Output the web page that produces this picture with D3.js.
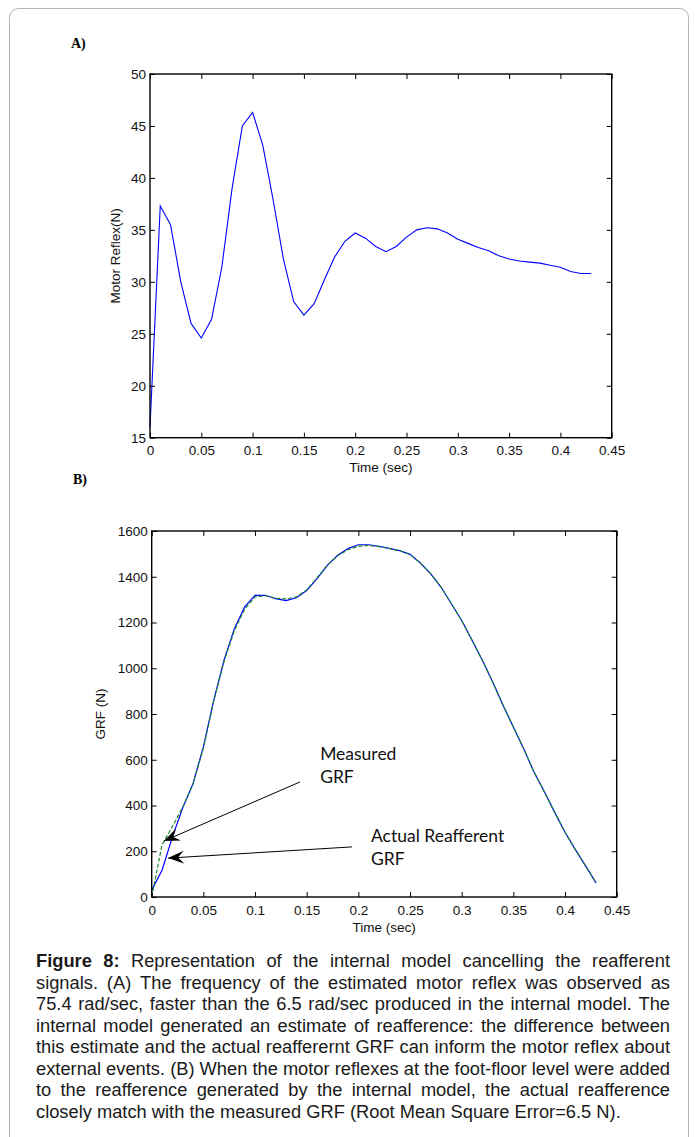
<!DOCTYPE html>
<html>
<head>
<meta charset="utf-8">
<script src="https://cdn.jsdelivr.net/npm/d3@7"></script>
<style>
  body { margin: 0; background: #fff; }
  .tick text { font-family: "Liberation Sans", Arial, sans-serif; font-size: 13.5px; fill: #111; }
  .tick line { stroke: #000; }
  .axlabel { font-family: "Liberation Sans", Arial, sans-serif; font-size: 13.5px; fill: #111; }
  .panel { font-family: "Liberation Serif", "Times New Roman", serif; font-size: 14px; font-weight: bold; }
  .note { font-family: Lato, "Open Sans", sans-serif; font-size: 17.5px; fill: #111; }
  .caption { font-family: "Liberation Sans", Arial, sans-serif; font-size: 18.3px; fill: #1a1a1a; }
</style>
</head>
<body>
<div id="fig"></div>
<script>
// ---- data ----
const time = [0, 0.01, 0.02, 0.03, 0.04, 0.05, 0.06, 0.07, 0.08, 0.09,
  0.10, 0.11, 0.12, 0.13, 0.14, 0.15, 0.16, 0.17, 0.18, 0.19,
  0.20, 0.21, 0.22, 0.23, 0.24, 0.25, 0.26, 0.27, 0.28, 0.29,
  0.30, 0.31, 0.32, 0.33, 0.34, 0.35, 0.36, 0.37, 0.38, 0.39,
  0.40, 0.41, 0.42, 0.43];

// A) motor reflex (N)
const motorReflex = [16.0, 37.3, 35.5, 30.0, 26.0, 24.6, 26.4, 31.4, 39.0, 45.0,
  46.3, 43.1, 37.9, 32.2, 28.1, 26.8, 27.9, 30.2, 32.4, 33.9,
  34.7, 34.2, 33.4, 32.9, 33.4, 34.3, 35.0, 35.2, 35.1, 34.7,
  34.1, 33.7, 33.3, 33.0, 32.5, 32.2, 32.0, 31.9, 31.8, 31.6,
  31.4, 31.0, 30.8, 30.8];

// B) actual reafferent GRF (blue) and measured GRF (green dashed)
const reafferentGRF = [30, 117, 262, 390, 495, 656, 860, 1035, 1173, 1268,
  1319, 1319, 1304, 1296, 1308, 1340, 1392, 1450, 1494, 1523,
  1540, 1540, 1533, 1524, 1514, 1498, 1460, 1413, 1355, 1282,
  1209, 1122, 1035, 940, 838, 743, 648, 546, 460, 370,
  283, 207, 135, 62];
const measuredGRF = [0, 228, 308, 392, 495, 650, 855, 1030, 1165, 1258,
  1312, 1317, 1306, 1303, 1312, 1342, 1395, 1452, 1492, 1518,
  1533, 1537, 1532, 1523, 1514, 1497, 1460, 1413, 1355, 1282,
  1209, 1122, 1035, 940, 838, 743, 648, 546, 460, 370,
  283, 207, 135, 62];

const xTicks = [0, 0.05, 0.1, 0.15, 0.2, 0.25, 0.3, 0.35, 0.4, 0.45];
const yTicksA = [15, 20, 25, 30, 35, 40, 45, 50];
const yTicksB = [0, 200, 400, 600, 800, 1000, 1200, 1400, 1600];

const captionLines = [
  "Figure 8: Representation of the internal model cancelling the reafferent",
  "signals. (A) The frequency of the estimated motor reflex was observed as",
  "75.4 rad/sec, faster than the 6.5 rad/sec produced in the internal model. The",
  "internal model generated an estimate of reafference: the difference between",
  "this estimate and the actual reafferernt GRF can inform the motor reflex about",
  "external events. (B) When the motor reflexes at the foot-floor level were added",
  "to the reafference generated by the internal model, the actual reafference",
  "closely match with the measured GRF (Root Mean Square Error=6.5 N)."
];

// ---- page ----
const svg = d3.select("#fig").append("svg").attr("width", 695).attr("height", 1137);

svg.append("rect")
  .attr("x", 9.5).attr("y", 8.5)
  .attr("width", 679).attr("height", 1160)
  .attr("rx", 9)
  .attr("fill", "none")
  .attr("stroke", "#b4b4b4");

const fmt = d3.format("~g");

// shared frame drawing (MATLAB style box, ticks inward on all sides)
function frame(x, y, yTicks, box) {
  const g = svg.append("g");
  g.append("g").attr("transform", `translate(0,${box.b})`)
    .call(d3.axisBottom(x).tickValues(xTicks).tickFormat(fmt).tickSizeInner(-5).tickSizeOuter(0).tickPadding(8));
  g.append("g").attr("transform", `translate(0,${box.t})`)
    .call(d3.axisTop(x).tickValues(xTicks).tickFormat("").tickSizeInner(-5).tickSizeOuter(0));
  g.append("g").attr("transform", `translate(${box.l},0)`)
    .call(d3.axisLeft(y).tickValues(yTicks).tickFormat(fmt).tickSizeInner(-5).tickSizeOuter(0).tickPadding(4));
  g.append("g").attr("transform", `translate(${box.r},0)`)
    .call(d3.axisRight(y).tickValues(yTicks).tickFormat("").tickSizeInner(-5).tickSizeOuter(0));
  g.selectAll(".domain").remove();
  g.append("rect")
    .attr("x", box.l).attr("y", box.t)
    .attr("width", box.r - box.l).attr("height", box.b - box.t)
    .attr("fill", "none").attr("stroke", "#000").attr("stroke-width", 1.4);
  return g;
}

// ----- A) Motor reflex -----
const boxA = { l: 150, r: 611.7, t: 74, b: 437.7 };
const xA = d3.scaleLinear().domain([0, 0.45]).range([boxA.l, boxA.r]);
const yA = d3.scaleLinear().domain([15, 50]).range([boxA.b, boxA.t]);

svg.append("text").attr("class", "panel").attr("x", 71).attr("y", 48).text("A)");

svg.append("path")
  .datum(time.map((t, i) => [t, motorReflex[i]]))
  .attr("fill", "none")
  .attr("stroke", "#0000ff")
  .attr("stroke-width", 1.1)
  .attr("d", d3.line().x(d => xA(d[0])).y(d => yA(d[1])));

frame(xA, yA, yTicksA, boxA);

svg.append("text").attr("class", "axlabel")
  .attr("text-anchor", "middle")
  .attr("x", (boxA.l + boxA.r) / 2).attr("y", 472)
  .text("Time (sec)");
svg.append("text").attr("class", "axlabel")
  .attr("text-anchor", "middle")
  .attr("transform", `translate(120,${(boxA.t + boxA.b) / 2}) rotate(-90)`)
  .text("Motor Reflex(N)");

// ----- B) GRF -----
const boxB = { l: 151.7, r: 616.7, t: 531, b: 897 };
const xB = d3.scaleLinear().domain([0, 0.45]).range([boxB.l, boxB.r]);
const yB = d3.scaleLinear().domain([0, 1600]).range([boxB.b, boxB.t]);

svg.append("text").attr("class", "panel").attr("x", 73).attr("y", 484).text("B)");

const lineB = d3.line().x(d => xB(d[0])).y(d => yB(d[1]));
svg.append("path")
  .datum(time.map((t, i) => [t, reafferentGRF[i]]))
  .attr("fill", "none")
  .attr("stroke", "#0000ff")
  .attr("stroke-width", 1.2)
  .attr("d", lineB);
svg.append("path")
  .datum(time.map((t, i) => [t, measuredGRF[i]]))
  .attr("fill", "none")
  .attr("stroke", "#1a8a2a")
  .attr("stroke-width", 1.2)
  .attr("stroke-dasharray", "4,2")
  .attr("d", lineB);

frame(xB, yB, yTicksB, boxB);

svg.append("text").attr("class", "axlabel")
  .attr("text-anchor", "middle")
  .attr("x", (boxB.l + boxB.r) / 2).attr("y", 932)
  .text("Time (sec)");
svg.append("text").attr("class", "axlabel")
  .attr("text-anchor", "middle")
  .attr("transform", `translate(105,${(boxB.t + boxB.b) / 2}) rotate(-90)`)
  .text("GRF (N)");

// ----- annotations (anchored in data units) -----
svg.append("defs").append("marker")
  .attr("id", "head")
  .attr("viewBox", "-16 -7 17 14")
  .attr("markerUnits", "userSpaceOnUse")
  .attr("markerWidth", 17).attr("markerHeight", 14)
  .attr("refX", 0).attr("refY", 0)
  .attr("orient", "auto")
  .append("path")
  .attr("d", "M0,0 L-16,-6.5 L-10,0 L-16,6.5 Z")
  .attr("fill", "#000");

const arrows = [
  { from: [0.1435, 503], to: [0.0119, 245] },
  { from: [0.1938, 219], to: [0.0158, 170] }
];
svg.selectAll(".arrow").data(arrows).join("line")
  .attr("class", "arrow")
  .attr("x1", d => xB(d.from[0])).attr("y1", d => yB(d.from[1]))
  .attr("x2", d => xB(d.to[0])).attr("y2", d => yB(d.to[1]))
  .attr("stroke", "#000").attr("stroke-width", 1)
  .attr("marker-end", "url(#head)");

const notes = [
  { t: 0.163, v: 599, text: "Measured" },
  { t: 0.163, v: 498, text: "GRF" },
  { t: 0.2122, v: 240, text: "Actual Reafferent" },
  { t: 0.2122, v: 140, text: "GRF" }
];
svg.selectAll(".note").data(notes).join("text")
  .attr("class", "note")
  .attr("x", d => xB(d.t)).attr("y", d => yB(d.v))
  .text(d => d.text);

// ----- caption, justified line by line -----
const capLeft = 36, capWidth = 634, capTop = 967, capStep = 21.5;

captionLines.forEach((line, i) => {
  const txt = svg.append("text").attr("class", "caption").attr("y", capTop + i * capStep);
  if (i === captionLines.length - 1) {
    txt.attr("x", capLeft).text(line);
    return;
  }
  const words = line.split(" ");
  const spans = words.map((w, j) => txt.append("tspan")
    .style("font-weight", (i === 0 && j < 2) ? "bold" : null)
    .text(w));
  const widths = spans.map(s => s.node().getComputedTextLength());
  const gap = (capWidth - d3.sum(widths)) / (words.length - 1);
  let x = capLeft;
  spans.forEach((s, j) => {
    s.attr("x", x);
    x += widths[j] + gap;
  });
});
</script>
</body>
</html>
